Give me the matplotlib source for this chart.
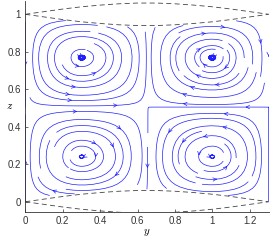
import matplotlib
matplotlib.use("Agg")
import matplotlib.pyplot as plt
import numpy as np

plt.rcParams['font.family'] = ['Liberation Sans', 'DejaVu Sans']
plt.rcParams['mathtext.fontset'] = 'cm'

# domain and cell layout
y_len = 1.3
z_len = 1.0
y_knots = [0.0, 0.30, 0.655, 1.00, 1.30]   # wall, cell centre, separatrix, cell centre, wall
z_knots = [0.0, 0.24, 0.505, 0.77, 1.00]
half_cells = [0.0, 0.5, 1.0, 1.5, 2.0]

# free-surface deflection (dashed lines), read at y = 0, 0.1, ..., 1.3
surf_y = [0.0, 0.1, 0.2, 0.3, 0.4, 0.5, 0.6, 0.7, 0.8, 0.9, 1.0, 1.1, 1.2, 1.3]
surf_d = [0.0, 0.014, 0.028, 0.040, 0.049, 0.056, 0.060,
          0.060, 0.056, 0.049, 0.040, 0.028, 0.014, 0.0]

# velocity field of the four cells
yy = np.linspace(0, y_len, 244)
zz = np.linspace(0, z_len, 188)
Y, Z = np.meshgrid(yy, zz)
xi = np.interp(Y, y_knots, half_cells)
eta = np.interp(Z, z_knots, half_cells)
psi = -np.sin(np.pi * xi) * np.sin(np.pi * eta)
dpsi_dz, dpsi_dy = np.gradient(psi, zz, yy)
V = dpsi_dz
W = -dpsi_dy

d = np.interp(Y, surf_y, surf_d)
outside = (Z < d) | (Z > z_len - d)
V = np.ma.masked_where(outside, V)
W = np.ma.masked_where(outside, W)

fig = plt.figure(figsize=(2.74, 2.46), dpi=100)
ax = fig.add_axes([0.0923, 0.138, 0.888, 0.858])

ax.streamplot(yy, zz, V, W, density=1.05, color='#2020ff', linewidth=0.5,
              arrowstyle='->', arrowsize=0.6, maxlength=2.5, minlength=0.15)

sy = np.array(surf_y)
sd = np.array(surf_d)
for base in (0.0, z_len):
    ax.plot(sy, base + sd, color='#444444', lw=0.6, ls=(0, (6, 4)))
    ax.plot(sy, base - sd, color='#444444', lw=0.6, ls=(0, (6, 4)))

ax.set_xlim(0, y_len)
ax.set_ylim(-0.055, 1.071)
ax.set_xticks([0, 0.2, 0.4, 0.6, 0.8, 1, 1.2])
ax.set_xticklabels(['0', '0.2', '0.4', '0.6', '0.8', '1', '1.2'])
ax.set_yticks([0, 0.2, 0.4, 0.6, 0.8, 1])
ax.set_yticklabels(['0', '0.2', '0.4', '0.6', '0.8', '1'])
ax.tick_params(direction='in', length=2, width=0.5, labelsize=7, colors='#333333', pad=3)
for side in ('top', 'right'):
    ax.spines[side].set_visible(False)
for side in ('left', 'bottom'):
    ax.spines[side].set_linewidth(0.6)
    ax.spines[side].set_color('#333333')

fig.text(147 / 274, 1 - 232 / 246, r'$y$', ha='center', va='center', fontsize=8)
fig.text(10 / 274, 1 - 106 / 246, r'$z$', ha='center', va='center', fontsize=8)

fig.savefig('out.png', dpi=100)
